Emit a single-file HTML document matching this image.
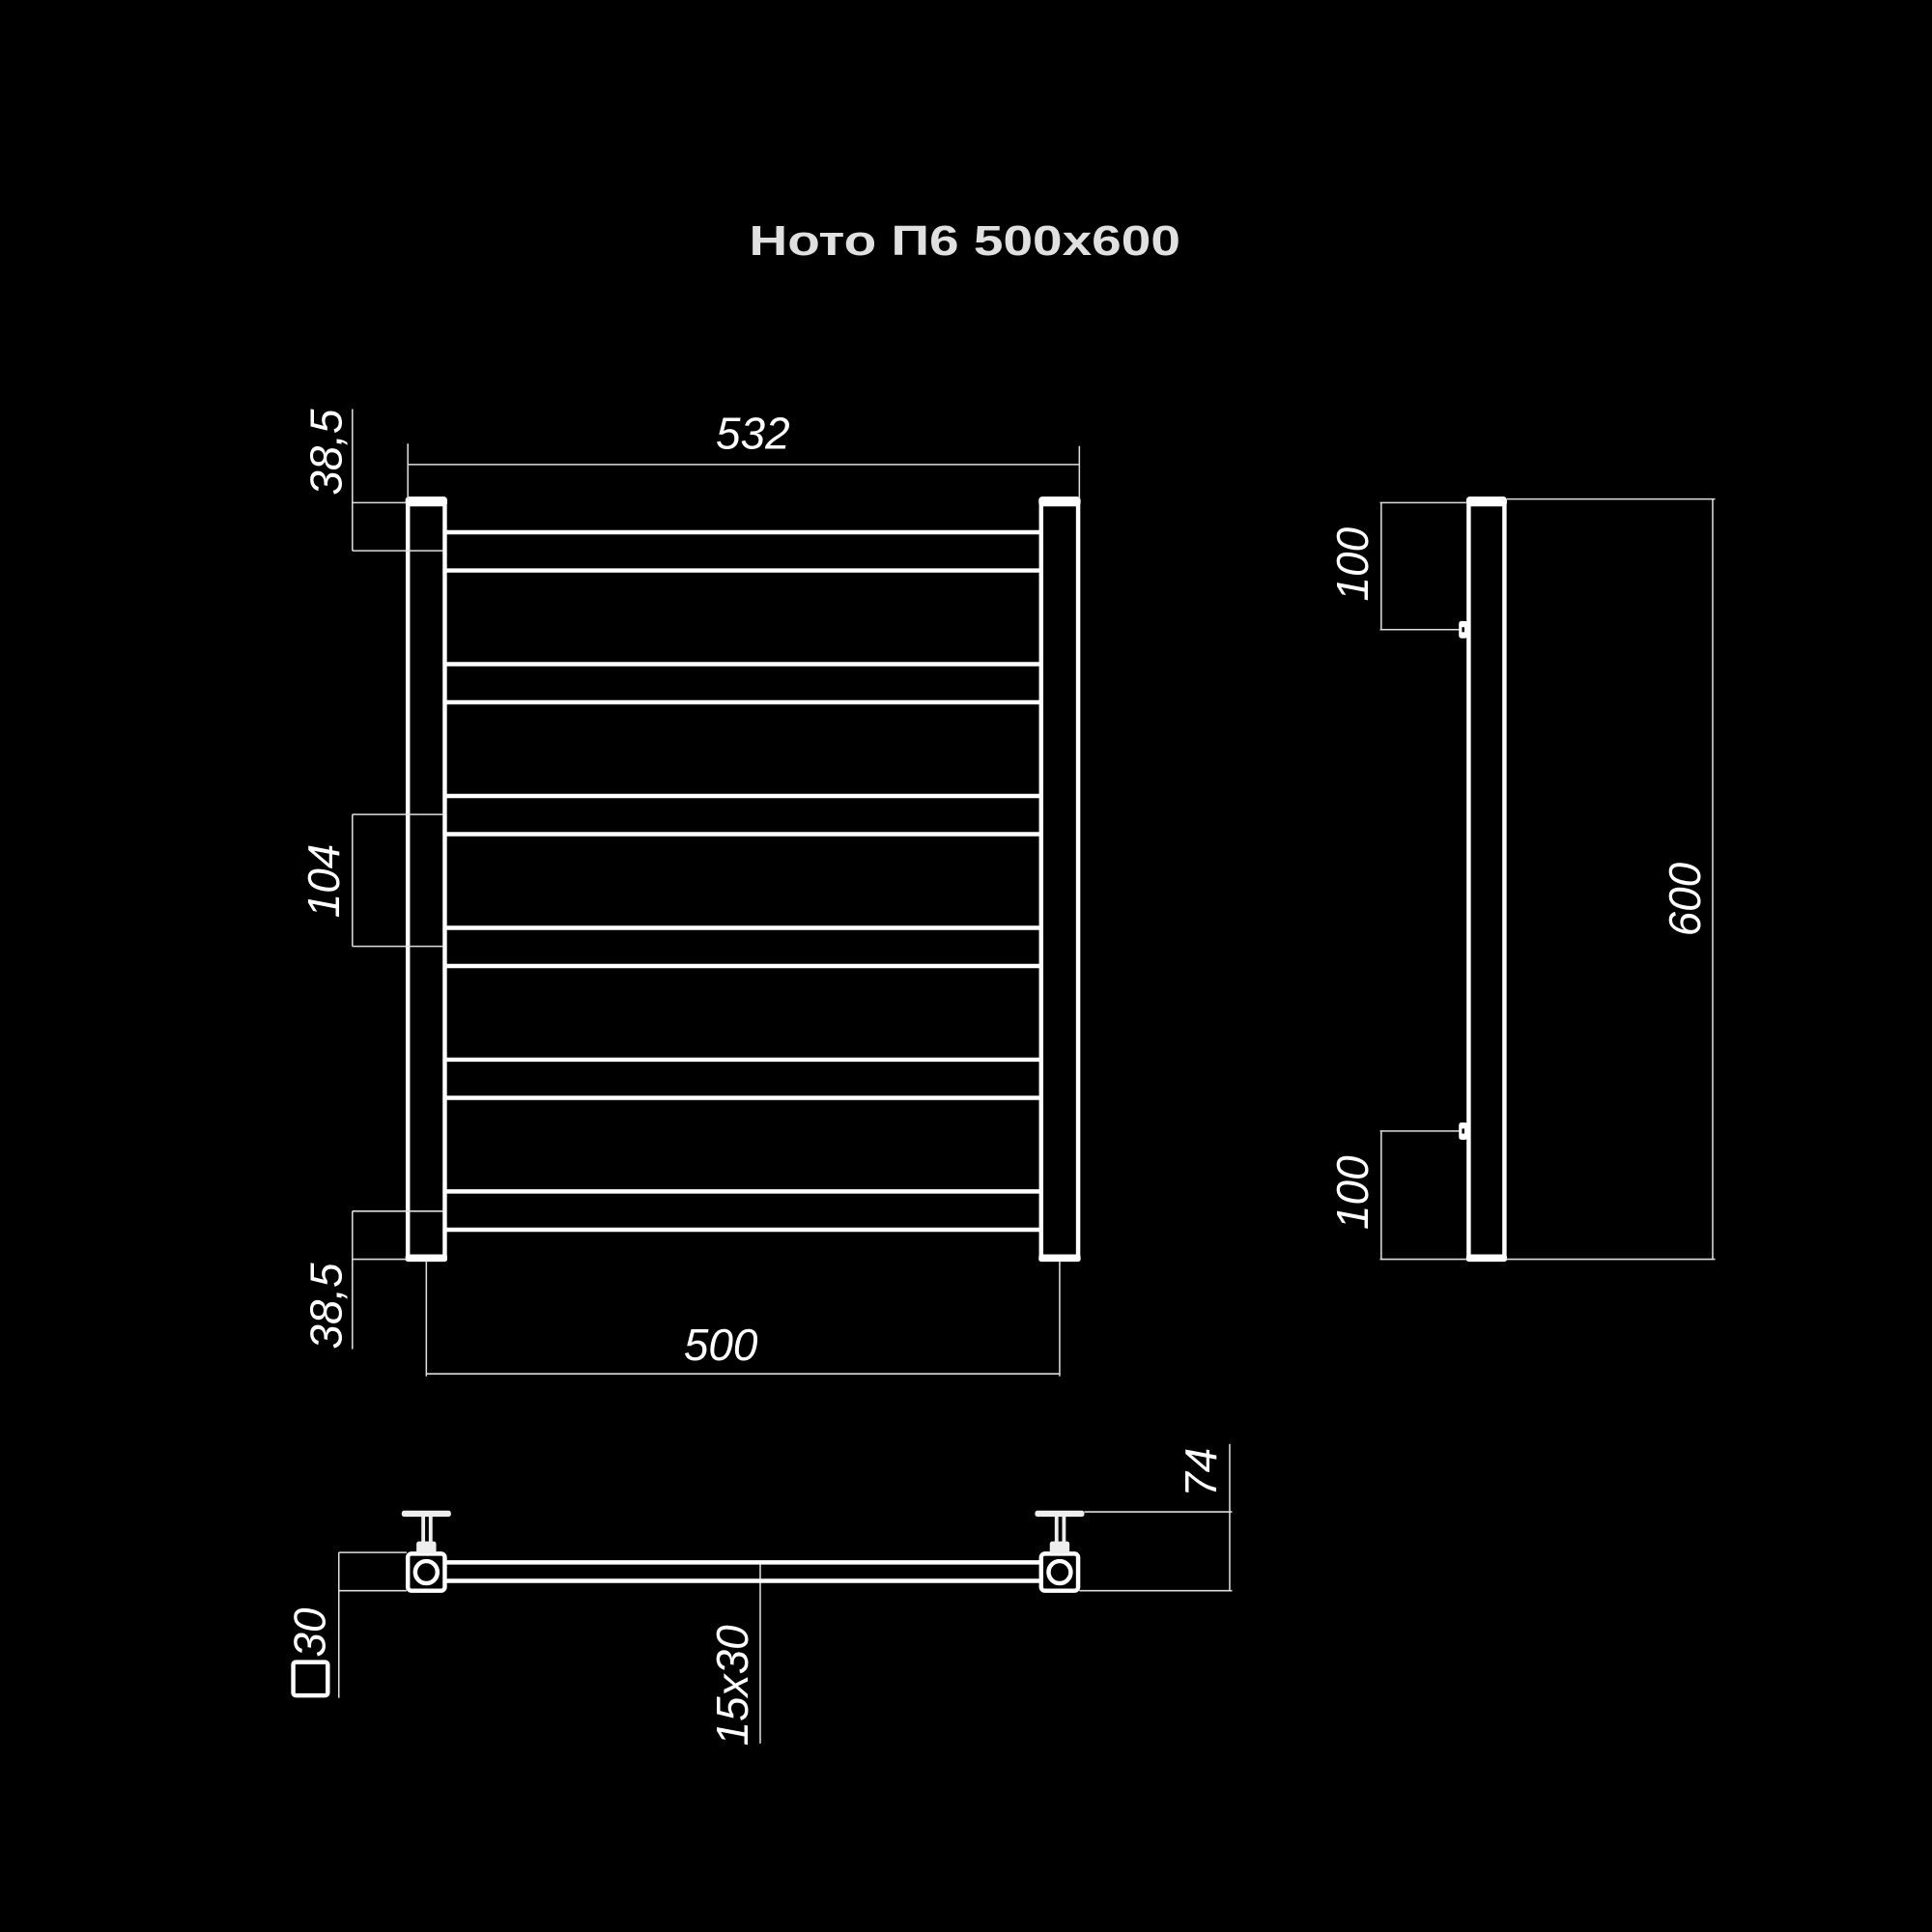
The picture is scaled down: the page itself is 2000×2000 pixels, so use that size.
<!DOCTYPE html>
<html><head><meta charset="utf-8"><style>html,body{margin:0;padding:0;background:#000}svg{display:block}</style></head><body>
<svg width="2000" height="2000" viewBox="0 0 1568 1568" xmlns="http://www.w3.org/2000/svg">
<rect width="1568" height="1568" fill="#000"/>
<text x="783" y="207" text-anchor="middle" font-family="Liberation Sans, sans-serif" font-weight="bold" font-size="34" fill="#e0e0e0" textLength="350" lengthAdjust="spacingAndGlyphs">Ното П6 500x600</text>

<g fill="none" stroke="#fff" stroke-width="3.5">
  <rect x="331" y="407" width="30" height="614"/>
  <rect x="845" y="407" width="30" height="614"/>
  <rect x="1192" y="407" width="29" height="614"/>
</g>
<g fill="#fff">
  <rect x="329" y="403" width="34" height="8" rx="3"/>
  <rect x="843" y="403" width="34" height="8" rx="3"/>
  <rect x="1190" y="403" width="33" height="8" rx="3"/>
  <rect x="329" y="1018" width="34" height="6" rx="2"/>
  <rect x="843" y="1018" width="34" height="6" rx="2"/>
  <rect x="1190" y="1018" width="33" height="6" rx="2"/>
</g>
<g stroke="#fff" stroke-width="3.5">
  <line x1="362" y1="432" x2="844" y2="432"/><line x1="362" y1="463" x2="844" y2="463"/>
  <line x1="362" y1="539" x2="844" y2="539"/><line x1="362" y1="570" x2="844" y2="570"/>
  <line x1="362" y1="646" x2="844" y2="646"/><line x1="362" y1="677" x2="844" y2="677"/>
  <line x1="362" y1="753" x2="844" y2="753"/><line x1="362" y1="784" x2="844" y2="784"/>
  <line x1="362" y1="860" x2="844" y2="860"/><line x1="362" y1="891" x2="844" y2="891"/>
  <line x1="362" y1="967" x2="844" y2="967"/><line x1="362" y1="998" x2="844" y2="998"/>
</g>

<!-- dimension lines -->
<g stroke="#ddd" stroke-width="1.2" fill="none">
  <line x1="331" y1="360" x2="331" y2="405"/><line x1="876" y1="362" x2="876" y2="405"/>
  <line x1="331" y1="377" x2="876" y2="377"/>
  <line x1="286" y1="332" x2="286" y2="447"/>
  <line x1="286" y1="408" x2="330" y2="408"/><line x1="286" y1="447" x2="360" y2="447"/>
  <line x1="286" y1="661" x2="286" y2="768"/>
  <line x1="286" y1="661" x2="360" y2="661"/><line x1="286" y1="768" x2="360" y2="768"/>
  <line x1="286" y1="983" x2="286" y2="1095"/>
  <line x1="286" y1="983" x2="360" y2="983"/><line x1="286" y1="1022" x2="330" y2="1022"/>
  <line x1="346" y1="1024" x2="346" y2="1117"/><line x1="860" y1="1024" x2="860" y2="1117"/>
  <line x1="346" y1="1115" x2="860" y2="1115"/>
  <line x1="1223" y1="405" x2="1392" y2="405"/><line x1="1223" y1="1022" x2="1392" y2="1022"/>
  <line x1="1390" y1="405" x2="1390" y2="1022"/>
  <line x1="1120" y1="408" x2="1190" y2="408"/><line x1="1120" y1="511" x2="1185" y2="511"/>
  <line x1="1121" y1="408" x2="1121" y2="511"/>
  <line x1="1120" y1="918" x2="1185" y2="918"/><line x1="1120" y1="1022" x2="1190" y2="1022"/>
  <line x1="1121" y1="918" x2="1121" y2="1022"/>
  <line x1="880" y1="1227" x2="1000" y2="1227"/><line x1="876" y1="1291" x2="1000" y2="1291"/>
  <line x1="998" y1="1172" x2="998" y2="1291"/>
  <line x1="275" y1="1260" x2="330" y2="1260"/><line x1="275" y1="1291" x2="330" y2="1291"/>
  <line x1="275" y1="1260" x2="275" y2="1378"/>
  <line x1="617" y1="1267" x2="617" y2="1415"/>
</g>
<g fill="#fff">
  <rect x="1184" y="504" width="7" height="14" rx="2"/>
  <rect x="1184" y="911" width="7" height="14" rx="2"/>
</g>
<g fill="#000"><rect x="1186.5" y="509" width="2" height="4"/><rect x="1186.5" y="916" width="2" height="4"/></g>

<!-- bottom view -->
<g stroke="#fff" stroke-width="3.5" fill="none">
  <line x1="362" y1="1268" x2="844" y2="1268"/><line x1="362" y1="1283" x2="844" y2="1283"/>
  <rect x="331" y="1261" width="30" height="30" rx="3"/>
  <rect x="845" y="1261" width="30" height="30" rx="3"/>
  <circle cx="346" cy="1276" r="9"/><circle cx="860" cy="1276" r="9"/>
  <rect x="238" y="1349" width="28" height="27" rx="2"/>
</g>
<g fill="#eee">
  <rect x="326" y="1226" width="40" height="5" rx="2"/>
  <rect x="840" y="1226" width="40" height="5" rx="2"/>
  <rect x="342" y="1230" width="3" height="22"/><rect x="348" y="1230" width="3" height="22"/>
  <rect x="856" y="1230" width="3" height="22"/><rect x="862" y="1230" width="3" height="22"/>
  <rect x="338" y="1251" width="16" height="10" rx="2"/>
  <rect x="852" y="1251" width="16" height="10" rx="2"/>
</g>

<g font-family="Liberation Sans, sans-serif" font-style="italic" font-size="36" fill="#fff">
  <text x="611" y="364" text-anchor="middle">532</text>
  <text x="585" y="1104" text-anchor="middle">500</text>
  <text transform="translate(277,367) rotate(-90)" text-anchor="middle">38,5</text>
  <text transform="translate(275,715) rotate(-90)" text-anchor="middle">104</text>
  <text transform="translate(277,1060) rotate(-90)" text-anchor="middle">38,5</text>
  <text transform="translate(1110,458) rotate(-90)" text-anchor="middle">100</text>
  <text transform="translate(1110,968) rotate(-90)" text-anchor="middle">100</text>
  <text transform="translate(1380,730) rotate(-90)" text-anchor="middle">600</text>
  <text transform="translate(987,1195) rotate(-90)" text-anchor="middle">74</text>
  <text transform="translate(264,1325) rotate(-90)" text-anchor="middle">30</text>
  <text transform="translate(607,1368) rotate(-90)" text-anchor="middle">15x30</text>
</g>
</svg>
</body></html>
